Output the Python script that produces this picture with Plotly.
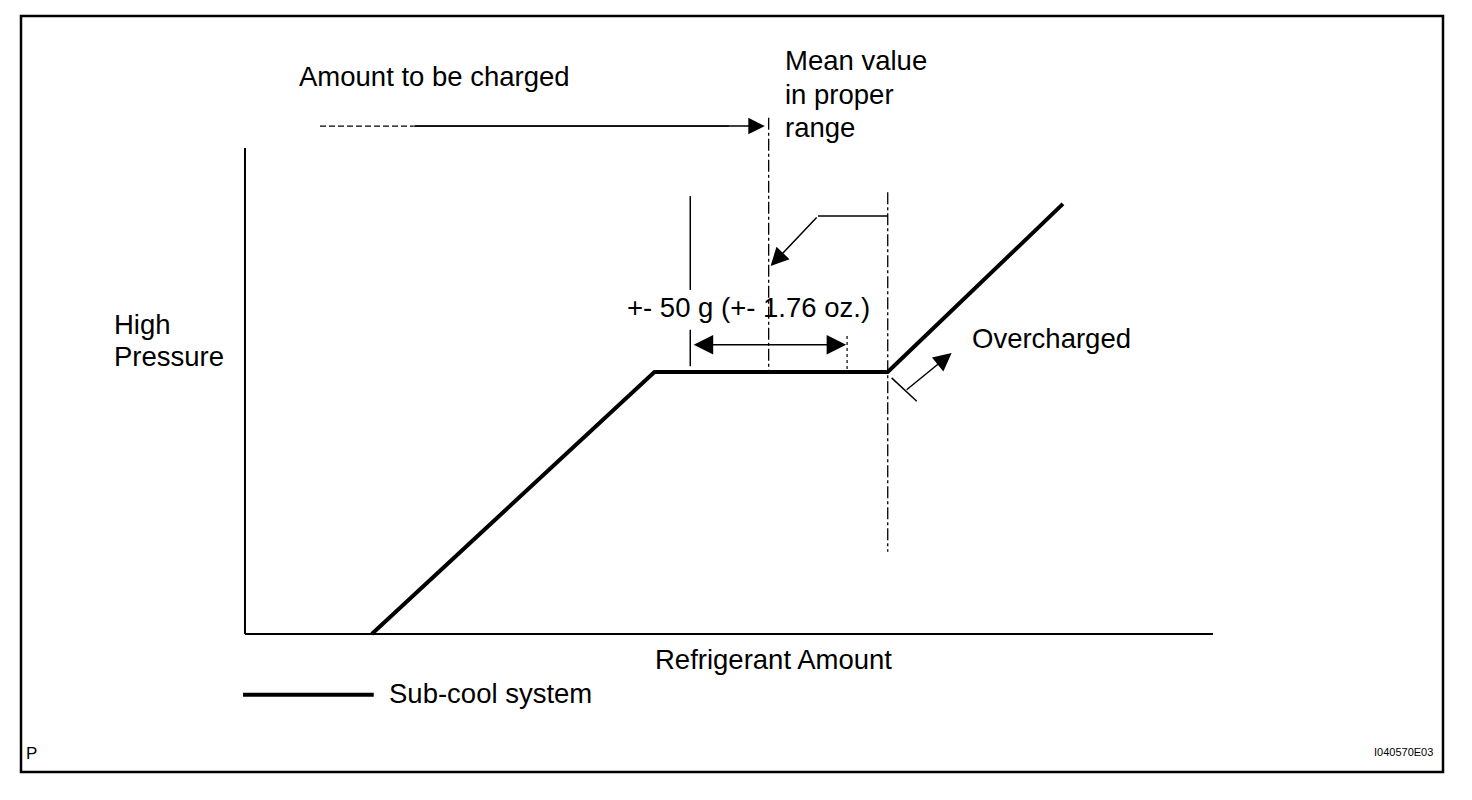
import plotly.graph_objects as go

# ---- data (chart units: refrigerant amount 0-100 on x, high pressure 0-100 on y)
refrigerant_amount = [13.1, 42.3, 66.4, 84.5]
high_pressure = [0.0, 53.9, 53.9, 88.5]
mean_value = 54.1
proper_range = [46.0, 62.2]
overcharge_start = 66.4
axis_max = [100, 100]

FONT = "Liberation Sans, Arial, sans-serif"
BLACK = "#000000"

fig = go.Figure()

def line(xs, ys, width=2, dash="solid"):
    fig.add_trace(go.Scatter(x=xs, y=ys, mode="lines", hoverinfo="skip",
                             line=dict(color=BLACK, width=width, dash=dash),
                             showlegend=False))

# axes
line([0, axis_max[0]], [0, 0], 2)
line([0, 0], [0, axis_max[1]], 2)

# main curve
line(refrigerant_amount, high_pressure, 4)

# legend sample
line([-0.2, 13.3], [-12.5, -12.5], 4)

flat = high_pressure[1]
# mean value vertical (dash-dot)
line([mean_value, mean_value], [106.2, flat], 1.3, "12px,3px,3px,3px")
# overcharge boundary vertical
line([overcharge_start, overcharge_start], [90.9, 16.9], 1.3, "12px,3px,3px,3px")
# left range bound (solid, broken by text)
line([proper_range[0], proper_range[0]], [90.1, 70.8], 1.5)
line([proper_range[0], proper_range[0]], [62.6, 55.1], 1.5)
# right range bound (dotted)
line([proper_range[1], proper_range[1]], [61.3, flat], 1.2, "dot")
# leader horizontal
line([overcharge_start, 59.2], [86.0, 86.0], 1.5)
# amount to be charged: dashed start + solid line
line([7.75, 17.4], [104.5, 104.5], 1.3, "6px,3px")
line([17.4, 50.0], [104.5, 104.5], 1.3)
# overcharge tick
line([66.8, 69.4], [52.7, 47.9], 1.5)

def arrow(x0, y0, x1, y1, both=False, size=2.4):
    fig.add_annotation(x=x1, y=y1, ax=x0, ay=y0, xref="x", yref="y",
                       axref="x", ayref="y", text="", showarrow=True,
                       arrowhead=2, arrowsize=size, arrowwidth=1.5,
                       arrowcolor=BLACK,
                       arrowside="end+start" if both else "end",
                       startarrowhead=2, startarrowsize=size)

arrow(17.4, 104.5, 53.7, 104.5, size=2.2)
arrow(59.2, 86.0, 54.3, 75.7)
arrow(proper_range[0] + 0.2, 59.5, proper_range[1] - 0.1, 59.5, both=True, size=2.6)
arrow(68.2, 50.0, 73.0, 57.8)

def text(s, x, y, size=27.5, xanchor="left", family=FONT):
    fig.add_annotation(x=x, y=y, xref="x", yref="y", text=s, showarrow=False,
                       xanchor=xanchor, yanchor="middle",
                       font=dict(family=family, size=size, color=BLACK))

text("Amount to be charged", 5.37, 114.8)
text("Mean value", 55.58, 118.1)
text("in proper", 55.58, 111.1)
text("range", 55.58, 104.3)
text("+- 50 g (+- 1.76 oz.)", 52.0, 67.1, xanchor="center")
text("Overcharged", 74.9, 60.7)
text("High", -13.74, 63.6)
text("Pressure", -13.74, 57.0)
text("Refrigerant Amount", 54.55, -5.35, xanchor="center")
text("Sub-cool system", 14.67, -12.3)
text("P", -22.83, -24.5, size=17)
text("I040570E03", 122.93, -24.3, size=11, xanchor="right",
     family="Liberation Sans Narrow, Liberation Sans, Arial, sans-serif")

# outer frame
fig.add_shape(type="rect", xref="paper", yref="paper",
              x0=21 / 1472, x1=1443 / 1472, y0=1 - 772 / 800, y1=1 - 16 / 800,
              line=dict(color=BLACK, width=2.5), fillcolor="rgba(0,0,0,0)")

fig.update_layout(
    width=1472, height=800, autosize=False,
    margin=dict(l=0, r=0, t=0, b=0),
    paper_bgcolor="white", plot_bgcolor="white",
    xaxis=dict(range=[-25.31, 126.76], domain=[0, 1], visible=False, fixedrange=True),
    yaxis=dict(range=[-34.16, 130.45], domain=[0, 1], visible=False, fixedrange=True),
    showlegend=False,
)

fig.write_html("out.html", config={"displayModeBar": False},
               post_script="document.body.style.margin='0';document.body.style.overflow='hidden';")
